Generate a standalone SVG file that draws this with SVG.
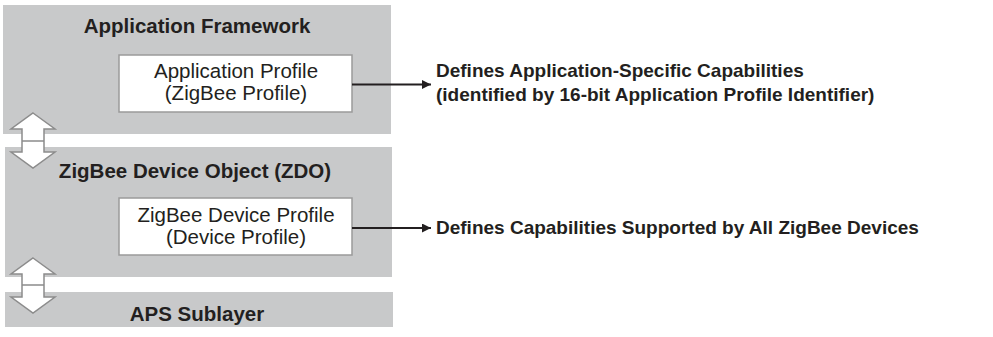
<svg xmlns="http://www.w3.org/2000/svg" width="993" height="337" viewBox="0 0 993 337">
<defs>
<style>
.layer{fill:#c8c9ca;stroke:none}
.box{fill:#fff;stroke:#9a9a9a;stroke-width:1.5}
.title{font-family:"Liberation Sans",Arial,sans-serif;font-weight:bold;font-size:20.5px;fill:#231f20;text-anchor:middle}
.lbl{font-family:"Liberation Sans",Arial,sans-serif;font-size:20.5px;fill:#231f20;text-anchor:middle}
.note{font-family:"Liberation Sans",Arial,sans-serif;font-weight:bold;font-size:19px;fill:#231f20}
.dbl{fill:#fff;stroke:#8c8c8c;stroke-width:1.5;stroke-linejoin:miter}
.conn{stroke:#231f20;stroke-width:2.2;fill:none}
</style>
<marker id="ah" viewBox="0 0 10 10" refX="10" refY="5" markerWidth="11" markerHeight="9" markerUnits="userSpaceOnUse" orient="auto">
<path d="M0,0 L10,5 L0,10 z" fill="#231f20"/>
</marker>
</defs>
<g id="app-framework">
<rect class="layer" x="3" y="5" width="388" height="129"/>
<text class="title" x="197" y="33">Application Framework</text>
</g>
<g id="zdo">
<rect class="layer" x="5" y="147" width="387" height="130"/>
<text class="title" x="195" y="178">ZigBee Device Object (ZDO)</text>
</g>
<g id="aps">
<rect class="layer" x="5" y="292" width="388" height="35"/>
<text class="title" x="197" y="321">APS Sublayer</text>
</g>
<g id="app-profile">
<rect class="box" x="119" y="55" width="233" height="57"/>
<text class="lbl" x="236" y="78">Application Profile</text>
<text class="lbl" x="236" y="100">(ZigBee Profile)</text>
</g>
<g id="device-profile">
<rect class="box" x="119" y="198" width="233" height="57"/>
<text class="lbl" x="236" y="222">ZigBee Device Profile</text>
<text class="lbl" x="236" y="244">(Device Profile)</text>
</g>
<g id="note-app">
<text class="note" x="436" y="77">Defines Application-Specific Capabilities</text>
<text class="note" x="436" y="101">(identified by 16-bit Application Profile Identifier)</text>
</g>
<g id="note-device">
<text class="note" x="436" y="234">Defines Capabilities Supported by All ZigBee Devices</text>
</g>
<g id="connectors">
<line class="conn" x1="352" y1="84.5" x2="431" y2="84.5" marker-end="url(#ah)"/>
<line class="conn" x1="352" y1="228" x2="431" y2="228" marker-end="url(#ah)"/>
<path class="dbl" d="M33,113 L55,129 L44,129 L44,152 L55,152 L33,168 L11,152 L22,152 L22,129 L11,129 Z M22,141 L44,141"/>
<path class="dbl" d="M33,258 L55,274 L44,274 L44,297 L55,297 L33,313 L11,297 L22,297 L22,274 L11,274 Z M22,285 L44,285"/>
</g>
</svg>
